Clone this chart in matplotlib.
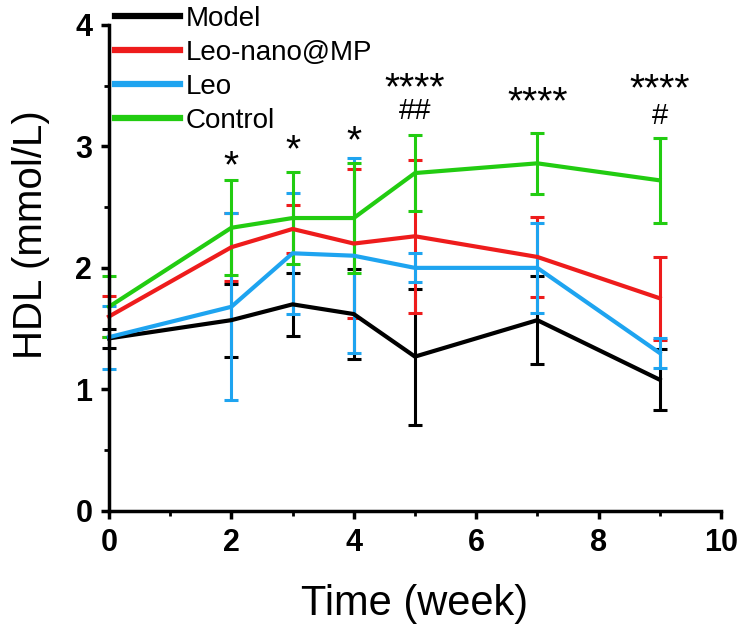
import matplotlib
matplotlib.use("Agg")
import matplotlib.pyplot as plt
from matplotlib.ticker import MultipleLocator
from matplotlib.lines import Line2D

weeks = [0, 2, 3, 4, 5, 7, 9]
series_names = ["Model", "Leo-nano@MP", "Leo", "Control"]
model_mean = [1.42, 1.57, 1.70, 1.62, 1.27, 1.57, 1.08]
model_err = [0.08, 0.30, 0.26, 0.37, 0.56, 0.36, 0.25]
nano_mean = [1.60, 2.17, 2.32, 2.20, 2.26, 2.09, 1.75]
nano_err = [0.17, 0.28, 0.20, 0.61, 0.63, 0.33, 0.34]
leo_mean = [1.43, 1.68, 2.12, 2.10, 2.00, 2.00, 1.30]
leo_err = [0.26, 0.77, 0.50, 0.80, 0.12, 0.37, 0.12]
ctrl_mean = [1.68, 2.33, 2.41, 2.41, 2.78, 2.86, 2.72]
ctrl_err = [0.25, 0.39, 0.38, 0.45, 0.31, 0.25, 0.35]

star_x = [2, 3, 4, 5, 7, 9]
star_y = [2.83, 2.96, 3.03, 3.47, 3.35, 3.46]
star_text = ["*", "*", "*", "****", "****", "****"]
hash_x = [5, 9]
hash_y = [3.29, 3.25]
hash_text = ["##", "#"]

colors = ["#000000", "#ee1c1c", "#1ea4f0", "#22cc11"]

plt.rcParams['font.family'] = ['Liberation Sans', 'DejaVu Sans']

fig = plt.figure(figsize=(7.39, 6.25), dpi=100)
ax = fig.add_axes([0.1475, 0.1824, 0.828, 0.778])

means = [model_mean, nano_mean, leo_mean, ctrl_mean]
errs = [model_err, nano_err, leo_err, ctrl_err]
for name, m, e, c in zip(series_names, means, errs, colors):
    ax.errorbar(weeks, m, yerr=e, color=c, lw=3, elinewidth=2.2,
                capsize=5, capthick=2.2, clip_on=False)

for x, y, t in zip(star_x, star_y, star_text):
    ax.text(x, y, t, ha='center', va='center', fontsize=28)
for x, y, t in zip(hash_x, hash_y, hash_text):
    ax.text(x, y, t, ha='center', va='center', fontsize=21)

ax.set_xlim(0, 10)
ax.set_ylim(0, 4)
ax.xaxis.set_major_locator(MultipleLocator(2))
ax.xaxis.set_minor_locator(MultipleLocator(1))
ax.yaxis.set_major_locator(MultipleLocator(1))
ax.yaxis.set_minor_locator(MultipleLocator(0.5))
for s in ['top', 'right']:
    ax.spines[s].set_visible(False)
for s in ['left', 'bottom']:
    ax.spines[s].set_linewidth(2.5)
ax.tick_params(which='major', direction='out', length=6, width=2.5, labelsize=22)
ax.tick_params(axis='y', which='major', pad=6)
ax.tick_params(axis='x', which='major', pad=6)
ax.tick_params(which='minor', direction='out', length=3.5, width=2)
for lab in ax.get_xticklabels() + ax.get_yticklabels():
    lab.set_fontweight('bold')
    lab.set_family(['Liberation Sans Narrow', 'Liberation Sans', 'DejaVu Sans'])

ax.set_xlabel("Time (week)", fontsize=30, labelpad=19)
ax.set_ylabel("HDL (mmol/L)", fontsize=29)
ax.yaxis.set_label_coords(-0.097, 0.568)

handles = [Line2D([], [], color=c, lw=4.5) for c in colors]
leg = ax.legend(handles, series_names, loc='upper left',
                bbox_to_anchor=(0.0, 1.05), frameon=False,
                fontsize=20, handlelength=2.35, handletextpad=0.2,
                labelspacing=0.29, borderaxespad=0, borderpad=0.2)

fig.savefig("out.png", dpi=100)
